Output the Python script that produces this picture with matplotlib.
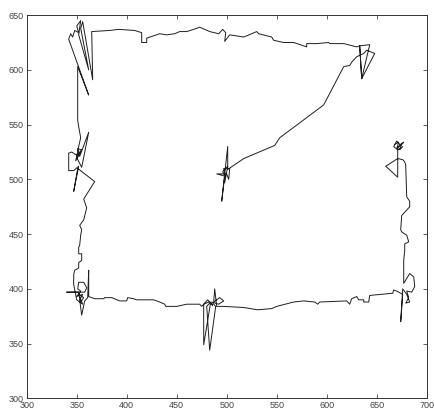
import numpy as np
import matplotlib
matplotlib.use("Agg")
from matplotlib import pyplot as plt

# path, one segment per region
right_mid_x = [668, 672, 670, 675, 673, 676, 671, 667, 670, 674, 677, 671, 671, 659, 671, 671, 676, 678, 679, 680, 683, 683, 680, 675, 674, 675, 680, 682, 678, 678, 677, 677]
right_mid_y = [532, 534, 528, 533, 527, 530, 527, 530, 535, 531, 534, 529, 519, 512, 502, 519, 518, 516, 513, 484, 480, 475, 472, 467, 454, 452, 449, 443, 441, 435, 426, 405]

bot_right_x = [683, 687, 688, 685, 680, 682, 679, 683, 680, 676, 674, 676, 670, 667, 666, 643, 642, 637, 637, 632, 630, 625, 623, 620, 593, 591, 588, 577, 567, 550, 545, 533, 530, 517, 497, 490]
bot_right_y = [414, 411, 402, 397, 398, 392, 387, 388, 395, 400, 370, 395, 398, 399, 396, 394, 388, 388, 390, 390, 393, 391, 386, 389, 388, 386, 388, 389, 388, 384, 382, 381, 381, 383, 384, 384]

bot_mid_x = [488, 487, 493, 497, 492, 485, 489, 483, 480, 484, 477, 477, 482, 486, 481, 475, 473, 460, 455, 450, 439, 438, 433, 427, 410, 407, 401, 400, 393, 385, 378, 377, 368, 362]
bot_mid_y = [400, 388, 392, 389, 386, 388, 384, 344, 384, 388, 349, 386, 388, 385, 390, 384, 386, 386, 385, 384, 384, 386, 388, 390, 390, 391, 392, 389, 389, 392, 392, 391, 391, 393]

bot_left_x = [362, 361, 358, 355, 353, 356, 350, 354, 351, 352, 357, 360, 358, 340, 352, 354, 357, 352, 356, 350, 347, 347, 348, 352, 352, 355, 355, 352, 352, 353, 354, 355, 353, 357]
bot_left_y = [417, 392, 389, 376, 390, 395, 393, 398, 400, 406, 406, 401, 397, 397, 397, 388, 392, 395, 386, 390, 404, 413, 417, 419, 424, 426, 432, 432, 438, 440, 449, 454, 458, 463]

left_mid_x = [360, 357, 368, 351, 347, 352, 347, 342, 342, 345, 350, 355, 351, 353, 362, 355, 350, 354, 349, 352, 354, 352, 351, 351, 351]
left_mid_y = [474, 482, 498, 510, 489, 512, 508, 508, 524, 525, 522, 527, 528, 521, 543, 511, 520, 525, 517, 530, 538, 548, 554, 563, 603]

top_left_x = [362, 342, 344, 346, 348, 352, 350, 354, 352, 362, 354, 356, 366, 365]
top_left_y = [577, 628, 633, 630, 636, 634, 640, 645, 632, 600, 638, 644, 591, 635]

top_x = [383, 392, 408, 415, 415, 420, 420, 433, 440, 448, 453, 460, 467, 473, 483, 492, 496, 499, 498, 503, 517, 525, 530, 532, 545, 547, 557, 567, 580, 580, 590, 602, 603, 617, 630, 633, 635, 633, 643, 635, 648, 640, 637]
top_y = [636, 637, 636, 634, 625, 625, 629, 633, 632, 633, 635, 635, 637, 639, 635, 633, 637, 634, 626, 632, 630, 633, 635, 633, 630, 627, 625, 625, 621, 624, 624, 625, 624, 624, 621, 622, 592, 622, 623, 592, 615, 618, 615]

diag_x = [630, 625, 623, 617, 597, 553, 548, 517, 501]
diag_y = [612, 607, 604, 603, 568, 538, 531, 519, 509]

centre_x = [501, 495, 498, 490, 500, 502, 503, 497, 499, 496, 501, 498]
centre_y = [530, 480, 503, 505, 505, 500, 510, 510, 502, 507, 512, 497]

xs = right_mid_x + bot_right_x + bot_mid_x + bot_left_x + left_mid_x + top_left_x + top_x + diag_x + centre_x
ys = right_mid_y + bot_right_y + bot_mid_y + bot_left_y + left_mid_y + top_left_y + top_y + diag_y + centre_y

plt.rcParams['font.family'] = ['Liberation Sans', 'DejaVu Sans']

fig = plt.figure(figsize=(4.34, 4.09), dpi=100)
ax = fig.add_axes([0.0615, 0.026, 0.9217, 0.937])
ax.plot(xs, ys, color='#1e1e1e', linewidth=0.7)

ax.set_xlim(300, 700)
ax.set_ylim(300, 650)
ax.set_xticks(np.arange(300, 701, 50))
ax.set_yticks(np.arange(300, 651, 50))
ax.tick_params(direction='in', length=3, width=0.6, labelsize=6.5, pad=2,
               top=True, right=True, colors='#444444')
for s in ax.spines.values():
    s.set_linewidth(0.7)
    s.set_color('#333333')

fig.savefig('out.png', dpi=100)
